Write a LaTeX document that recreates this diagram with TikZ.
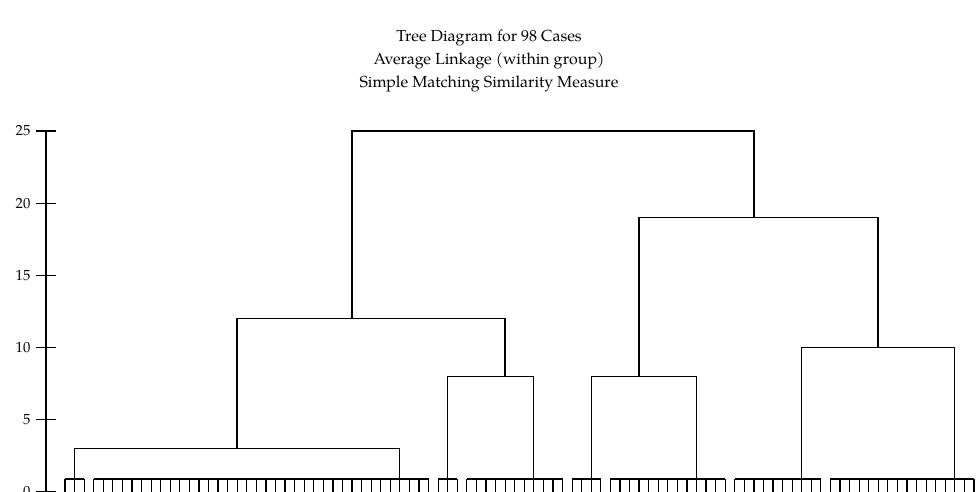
\documentclass[tikz,border=0pt]{standalone}
\usepackage{fontspec}
\setmainfont{TeX Gyre Pagella}

\newcommand{\leafsep}{9.568}
\newcommand{\ustep}{14.44}

\begin{document}
\begin{tikzpicture}[x=0.75pt, y=0.75pt, line width=0.9pt]
    \useasboundingbox (0, 0) rectangle (978, 492);

    \node[anchor=base] (title1) at (489, 450) {\fontsize{12}{14}\selectfont Tree Diagram for 98 Cases};
    \node[anchor=base] (title2) at (489, 427) {\fontsize{12}{14}\selectfont Average Linkage (within group)};
    \node[anchor=base] (title3) at (489, 404) {\fontsize{12}{14}\selectfont Simple Matching Similarity Measure};

    % axis
    \draw (46, 0) -- (46, 25*\ustep);
    \foreach \v in {0, 5, ..., 25} {
        \draw (36, \v*\ustep) -- (56, \v*\ustep);
        \node[anchor=east, inner sep=0pt] (lbl\v) at (31, \v*\ustep) {\fontsize{11}{13}\selectfont \v};
    }

    % leaves and their combs
    \foreach \i in {0, ..., 95} \draw (65 + \i*\leafsep, -2) -- (65 + \i*\leafsep, 13);
    \foreach \a/\b in {0/2, 3/38, 39/41, 42/52, 53/56, 57/69, 70/79, 80/95}
        \draw (65 + \a*\leafsep, 13) -- (65 + \b*\leafsep, 13);
    \foreach \n/\i in {g1/1, g2/35, g3/40, g4/49, g5/55, g6/66, g7/77, g8/93}
        \coordinate (\n) at (65 + \i*\leafsep, 13);

    \coordinate (a) at (237, 3*\ustep);
    \coordinate (b) at (505, 8*\ustep);
    \coordinate (c) at (352, 12*\ustep);
    \coordinate (d) at (639, 8*\ustep);
    \coordinate (e) at (878, 10*\ustep);
    \coordinate (f) at (754, 19*\ustep);
    \coordinate (root) at (553, 25*\ustep);

    \draw (g1) |- (a) -| (g2);
    \draw (g3) |- (b) -| (g4);
    \draw (a) |- (c) -| (b);
    \draw (g5) |- (d) -| (g6);
    \draw (g7) |- (e) -| (g8);
    \draw (d) |- (f) -| (e);
    \draw (c) |- (root) -| (f);
\end{tikzpicture}
\end{document}
